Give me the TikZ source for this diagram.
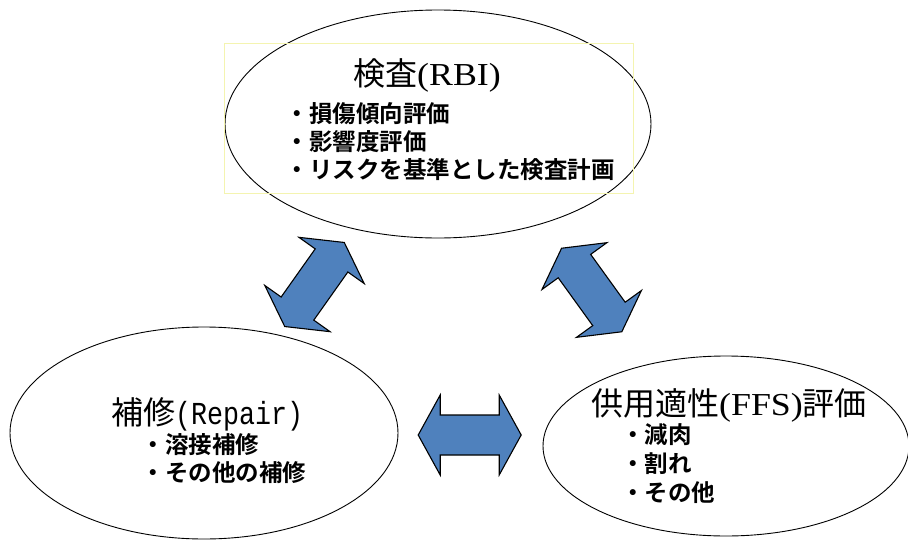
\documentclass[tikz,border=0pt]{standalone}
\usepackage{fontspec}
\usetikzlibrary{shapes.geometric}
\setmainfont{Liberation Serif}
\newfontfamily\jp{Noto Sans CJK JP}[BoldFont={Noto Sans CJK JP Bold}]
\newfontfamily\latw{Liberation Serif}[FakeStretch=1.12]
\newfontfamily\latm{Liberation Mono}[FakeStretch=0.833]
\definecolor{arrowblue}{HTML}{4F81BD}
\definecolor{faintyellow}{HTML}{F4F4B0}
\tikzset{
  bubble/.style={ellipse, draw=black, line width=0.9pt, inner sep=0pt},
  titletext/.style={anchor=west, inner sep=0pt, font=\jp\fontsize{32}{32}\selectfont},
  itemtext/.style={anchor=west, inner sep=0pt, font=\jp\bfseries\fontsize{23.5}{23.5}\selectfont},
  arrowfill/.style={fill=arrowblue, draw=black, line width=1.1pt, line join=miter},
  dblarrow/.pic={\path[arrowfill] (-51.5,0) -- (-29.5,-40) -- (-29.5,-20) -- (29.5,-20) -- (29.5,-40) -- (51.5,0) -- (29.5,40) -- (29.5,20) -- (-29.5,20) -- (-29.5,40) -- cycle;}
}
\begin{document}
\begin{tikzpicture}[x=1pt, y=-1pt]
\useasboundingbox (0,0) rectangle (908,541);
% ellipses
\node[bubble, minimum width=426pt, minimum height=228pt] (rbi) at (438,124) {};
\node[bubble, minimum width=388pt, minimum height=212pt] (rep) at (204,433) {};
\node[bubble, minimum width=366pt, minimum height=180pt] (ffs) at (726,446) {};
% faint text frame
\draw[faintyellow, line width=0.6pt] (224,43) rectangle (633,193);
% texts
\node[titletext] (t1) at (353,75) {検査{\latw (RBI)}};
\node[itemtext] (i11) at (285.3,114) {・損傷傾向評価};
\node[itemtext] (i12) at (285.3,142) {・影響度評価};
\node[itemtext] (i13) at (285.3,170) {・リスクを基準とした検査計画};
\node[titletext] (t2) at (111,414) {補修{\latm (Repair)}};
\node[itemtext] (i21) at (141.3,445) {・溶接補修};
\node[itemtext] (i22) at (141.3,473) {・その他の補修};
\node[titletext] (t3) at (591,405) {供用適性{\latw (FFS)}評価};
\node[itemtext] (i31) at (620.8,435) {・減肉};
\node[itemtext] (i32) at (620.8,464) {・割れ};
\node[itemtext] (i33) at (620.8,493) {・その他};
% double arrows
\pic[rotate=54.7] at (314.5,284.5) {dblarrow};
\pic at (469.7,435) {dblarrow};
\pic[rotate=-54.2] at (591.7,290) {dblarrow};
\end{tikzpicture}
\end{document}
